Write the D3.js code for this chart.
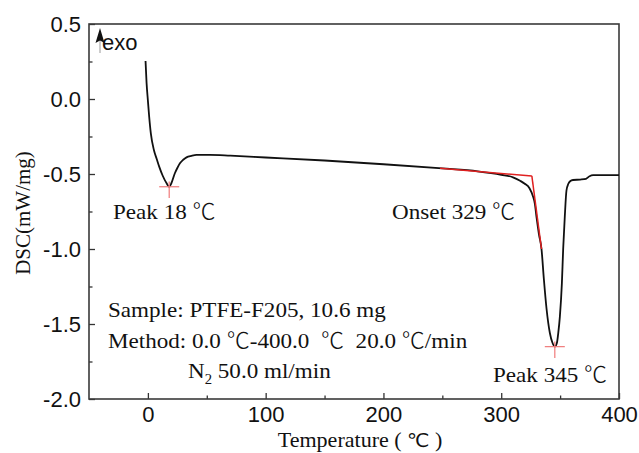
<!DOCTYPE html>
<html>
<head>
<meta charset="utf-8">
<script src="https://cdn.jsdelivr.net/npm/d3@7"></script>
<style>
  body { margin: 0; background: #fff; }
  .serif { font-family: "Liberation Serif", "Times New Roman", serif; fill: #111; white-space: pre; }
  .cjk { font-family: "Noto Sans CJK SC", sans-serif; font-weight: 300; }
  .deg { font-family: "DejaVu Sans", sans-serif; font-size: 0.9em; }
  .sans { font-family: "Liberation Sans", Arial, sans-serif; fill: #111; }
</style>
</head>
<body>
<div id="chart"></div>
<script>
// DSC curve
const temp = [-2, -1.1, 0, 1.1, 2.5, 5.1, 7.5, 9.6, 12.5, 15.9, 18.1, 20, 22.9, 25, 27.2, 30, 32.8, 37, 41.3, 52.6,
    70, 100, 150, 200, 250, 280, 300, 310, 316, 320, 324, 327, 328.6, 330, 332, 334.2, 336.2, 338.5, 341.3, 343.5,
    345.5, 347.3, 348.4, 349.8, 351.5, 352.6, 354, 355.4, 357, 358.5, 361, 367, 372, 375, 378, 385, 400];
const dsc = [0.253, 0.105, -0.01, -0.118, -0.229, -0.34, -0.40, -0.451, -0.51, -0.562, -0.585, -0.56, -0.495, -0.46, -0.429, -0.405, -0.389, -0.379, -0.373, -0.373,
    -0.378, -0.39, -0.41, -0.435, -0.463, -0.482, -0.505, -0.522, -0.545, -0.565, -0.595, -0.65, -0.70, -0.79, -0.90, -1.0, -1.2, -1.40, -1.56, -1.625,
    -1.651, -1.625, -1.562, -1.451, -1.229, -1.0, -0.78, -0.61, -0.565, -0.548, -0.54, -0.537, -0.532, -0.515, -0.508, -0.507, -0.507];

// onset construction (red)
const baseT = [248, 326];
const baseV = [-0.462, -0.513];
const tanT = [326, 334.2];
const tanV = [-0.513, -1.0];

// peak markers
const peakT = [18.1, 345.5];
const peakV = [-0.585, -1.651];

const xMajor = [0, 100, 200, 300, 400];
const xMinor = [50, 150, 250, 350];
const yMajor = [-2.0, -1.5, -1.0, -0.5, 0.0, 0.5];
const yMinor = [-1.75, -1.25, -0.75, -0.25, 0.25];

const W = 639, H = 453;
const margin = {top: 24, right: 20, bottom: 54, left: 89};

const svg = d3.select("#chart").append("svg")
    .attr("width", W)
    .attr("height", H);

const x = d3.scaleLinear().domain([-50, 400]).range([margin.left, W - margin.right]);
const y = d3.scaleLinear().domain([-2, 0.5]).range([H - margin.bottom, margin.top]);

// axes with inward ticks
const gx = svg.append("g").attr("transform", `translate(0,${H - margin.bottom})`)
    .call(d3.axisBottom(x).tickValues(xMajor).tickSizeInner(-6).tickSizeOuter(0).tickFormat(d3.format("d")));
svg.append("g").attr("transform", `translate(0,${H - margin.bottom})`)
    .call(d3.axisBottom(x).tickValues(xMinor).tickSizeInner(-3.5).tickSizeOuter(0).tickFormat(""));
const gy = svg.append("g").attr("transform", `translate(${margin.left},0)`)
    .call(d3.axisLeft(y).tickValues(yMajor).tickSizeInner(-6).tickSizeOuter(0).tickFormat(d3.format(".1f")));
svg.append("g").attr("transform", `translate(${margin.left},0)`)
    .call(d3.axisLeft(y).tickValues(yMinor).tickSizeInner(-3.5).tickSizeOuter(0).tickFormat(""));

svg.selectAll(".domain").remove();
svg.selectAll(".tick line").attr("stroke", "#333").attr("stroke-width", 1.3);
gx.selectAll("text").attr("class", "sans").attr("y", 23).attr("dy", null)
    .style("font-size", "22px");
gy.selectAll("text").attr("class", "sans").attr("x", -8).attr("dy", "0.36em")
    .style("font-size", "22px").text(d => d3.format(".1f")(d).replace("−", "-"));

// frame
svg.append("rect")
    .attr("x", x(-50)).attr("y", y(0.5))
    .attr("width", x(400) - x(-50)).attr("height", y(-2) - y(0.5))
    .attr("fill", "none").attr("stroke", "#3a3a3a").attr("stroke-width", 1.6);

// curve
const line = d3.line().x(d => x(d[0])).y(d => y(d[1])).curve(d3.curveMonotoneX);
svg.append("path")
    .datum(d3.zip(temp, dsc))
    .attr("d", line)
    .attr("fill", "none").attr("stroke", "#111").attr("stroke-width", 1.8);

const straight = d3.line().x(d => x(d[0])).y(d => y(d[1]));
svg.append("path").datum(d3.zip(baseT, baseV)).attr("d", straight)
    .attr("fill", "none").attr("stroke", "#e02020").attr("stroke-width", 1.5);
svg.append("path").datum(d3.zip(tanT, tanV)).attr("d", straight)
    .attr("fill", "none").attr("stroke", "#e02020").attr("stroke-width", 1.5);

// crosses at the peaks
peakT.forEach((t, i) => {
    const v = peakV[i];
    svg.append("line").attr("x1", x(t - 8.5)).attr("x2", x(t + 8.5)).attr("y1", y(v)).attr("y2", y(v))
        .attr("stroke", "#f07a7a").attr("stroke-width", 1.2);
    svg.append("line").attr("x1", x(t)).attr("x2", x(t)).attr("y1", y(v + 0.035)).attr("y2", y(v - 0.075))
        .attr("stroke", "#f07a7a").attr("stroke-width", 1.2);
});

// text helper: ℃ goes to another font
function fill(sel, txt, cls) {
    txt.split(/(℃)/).forEach(part => {
        if (!part) return;
        const t = sel.append("tspan").text(part);
        if (part === "℃") t.attr("class", cls || "cjk");
    });
    return sel;
}
function label(px, py, txt, size, sx, anchor, cls) {
    const t = svg.append("text").attr("class", "serif")
        .attr("transform", `translate(${px},${py}) scale(${sx},1)`)
        .attr("text-anchor", anchor || "start")
        .style("font-size", size + "px");
    return fill(t, txt, cls);
}

label(113, 219, "Peak 18 ℃", 22, 1.05);
label(392, 219, "Onset 329 ℃", 22, 1.05);
label(493, 382, "Peak 345 ℃", 22, 1.05);
label(108, 317, "Sample: PTFE-F205, 10.6 mg", 22, 1.05);
label(108, 348, "Method: 0.0 ℃-400.0  ℃  20.0 ℃/min", 22, 1.05);
const n2 = label(188, 378, "N", 22, 1.05);
n2.append("tspan").attr("dy", 6).style("font-size", "14px").text("2");
fill(n2.append("tspan").attr("dy", -6), " 50.0 ml/min");

// axis titles
label(360, 447, "Temperature ( ℃ )", 21, 1.05, "middle", "deg");
fill(svg.append("text").attr("class", "serif")
    .attr("transform", `translate(30,213) rotate(-90)`)
    .attr("text-anchor", "middle")
    .style("font-size", "21px"), "DSC(mW/mg)");

// exo arrow
svg.append("line").attr("x1", 100).attr("x2", 100).attr("y1", 40).attr("y2", 53)
    .attr("stroke", "#999").attr("stroke-width", 1);
svg.append("path").attr("d", "M100,28 L95.5,43 L100,40.5 L104.5,43 Z").attr("fill", "#111");
svg.append("text").attr("class", "sans").attr("x", 102).attr("y", 50)
    .style("font-size", "22px").text("exo");
</script>
</body>
</html>
